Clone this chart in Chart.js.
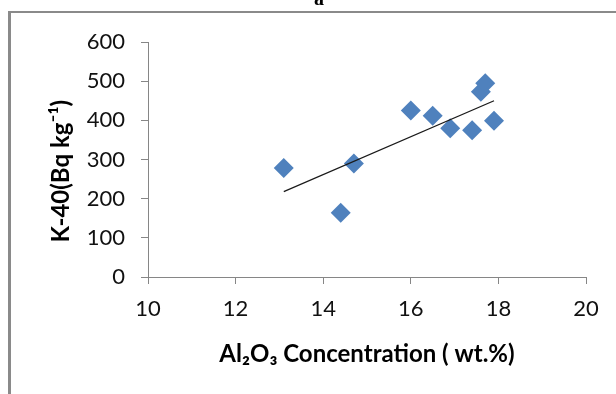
<!DOCTYPE html>
<html>
<head>
<meta charset="utf-8">
<script src="https://cdn.jsdelivr.net/npm/chart.js@4"></script>
<style>
  html, body { margin: 0; padding: 0; background: #ffffff; }
  #wrap { width: 616px; height: 394px; position: relative; }
</style>
</head>
<body>
<div id="wrap"><canvas id="c" width="616" height="394"></canvas></div>
<script>
// ---- data ----
const al2o3 = [13.1, 14.4, 14.7, 16.0, 16.5, 16.9, 17.4, 17.9, 17.6, 17.7];
const k40 = [278, 164, 290, 425, 412, 380, 375, 399, 473, 495];
const trendX = [13.1, 17.9];
const trendY = [218, 450];
const xTickValues = [10, 12, 14, 16, 18, 20];
const yTickValues = [0, 100, 200, 300, 400, 500, 600];
const panelLabel = 'a';
const xTitle = 'Al\u2082O\u2083 Concentration ( wt.%)';
const yTitle = 'K-40(Bq kg\u207B\u00B9)';

const toPoints = (xs, ys) => xs.map((x, i) => ({ x: x, y: ys[i] }));

const framePlugin = {
  id: 'frame',
  afterDraw(chart) {
    const ctx = chart.ctx;
    ctx.save();
    ctx.fillStyle = '#8a8a8a';
    ctx.fillRect(8, 11, 3, 394 - 11);
    ctx.fillRect(8, 11, 616 - 8, 2);
    ctx.fillStyle = '#000000';
    ctx.font = 'bold 20px "Liberation Serif"';
    ctx.textAlign = 'center';
    ctx.textBaseline = 'alphabetic';
    ctx.fillText(panelLabel, 319, 5);
    ctx.restore();
  }
};

const axisColor = '#868686';
const tickFont = { family: 'Lato', size: 22 };
const titleFont = { family: 'Lato', size: 24, weight: 'bold' };

new Chart(document.getElementById('c'), {
  type: 'scatter',
  data: {
    datasets: [
      {
        type: 'line',
        data: toPoints(trendX, trendY),
        borderColor: '#1a1a1a',
        borderWidth: 1.25,
        pointRadius: 0,
        fill: false,
        order: 0
      },
      {
        type: 'scatter',
        data: toPoints(al2o3, k40),
        pointStyle: 'rectRot',
        pointRadius: 10,
        pointHoverRadius: 10,
        backgroundColor: '#4F81BD',
        borderColor: '#4F81BD',
        borderWidth: 0,
        order: 1
      }
    ]
  },
  options: {
    responsive: false,
    devicePixelRatio: 1,
    animation: false,
    events: [],
    layout: { padding: { top: 42, right: 30, left: 0, bottom: 0 } },
    plugins: { legend: { display: false }, tooltip: { enabled: false }, title: { display: false } },
    scales: {
      x: {
        type: 'linear',
        min: 10, max: 20,
        afterBuildTicks(scale) { scale.ticks = xTickValues.map(v => ({ value: v })); },
        afterFit(scale) { scale.height = 394 - 277; },
        grid: { display: true, drawOnChartArea: false, drawTicks: true, tickLength: 7, color: axisColor, lineWidth: 1 },
        border: { display: true, color: axisColor, width: 1 },
        ticks: { font: tickFont, color: '#111111', padding: 12, maxRotation: 0, autoSkip: false },
        title: { display: true, text: xTitle, font: titleFont, color: '#000000', padding: { top: 0, bottom: 25 } }
      },
      y: {
        type: 'linear',
        min: 0, max: 600,
        afterBuildTicks(scale) { scale.ticks = yTickValues.map(v => ({ value: v })); },
        afterFit(scale) { scale.width = 148; },
        grid: { display: true, drawOnChartArea: false, drawTicks: true, tickLength: 7, color: axisColor, lineWidth: 1 },
        border: { display: true, color: axisColor, width: 1 },
        ticks: { font: tickFont, color: '#111111', padding: 16, autoSkip: false },
        title: { display: true, text: yTitle + '    ', font: titleFont, color: '#000000', padding: { top: 47, bottom: 0 } }
      }
    }
  },
  plugins: [framePlugin]
});
</script>
</body>
</html>
